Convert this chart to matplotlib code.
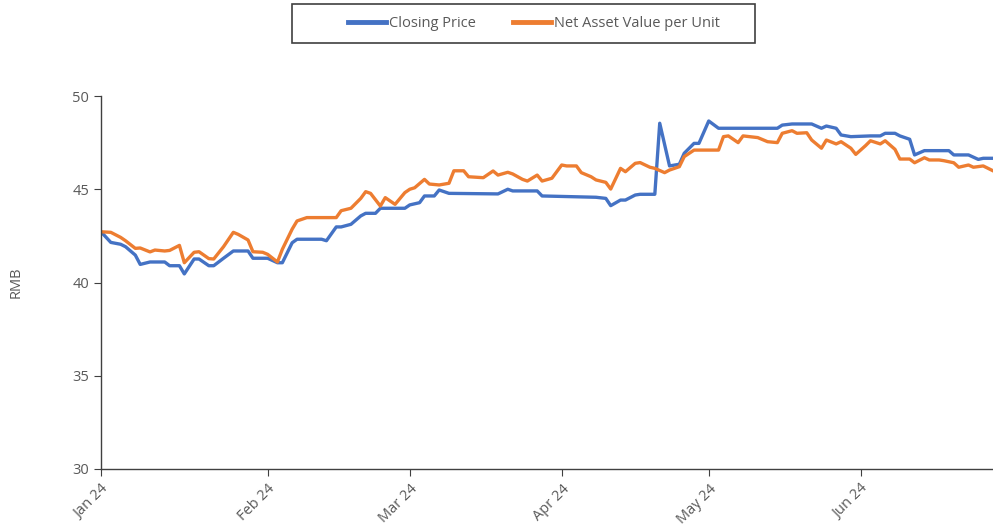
import matplotlib
matplotlib.use("Agg")
import matplotlib.pyplot as plt
import matplotlib.dates as mdates
from matplotlib.patches import Rectangle
import pandas as pd

plt.rcParams['font.family'] = ['Open Sans', 'DejaVu Sans']

close_dates = ["2023-12-29", "2023-12-31", "2024-01-02", "2024-01-03", "2024-01-05", "2024-01-06",
               "2024-01-08", "2024-01-11", "2024-01-12", "2024-01-14", "2024-01-15", "2024-01-17",
               "2024-01-18", "2024-01-20", "2024-01-21", "2024-01-23", "2024-01-25", "2024-01-28",
               "2024-01-29", "2024-02-01", "2024-02-03", "2024-02-04", "2024-02-06", "2024-02-07",
               "2024-02-12", "2024-02-13", "2024-02-15", "2024-02-16", "2024-02-18", "2024-02-20",
               "2024-02-21", "2024-02-23", "2024-02-24", "2024-02-29", "2024-03-01", "2024-03-03",
               "2024-03-04", "2024-03-06", "2024-03-07", "2024-03-09", "2024-03-19", "2024-03-21",
               "2024-03-22", "2024-03-27", "2024-03-28", "2024-04-08", "2024-04-10", "2024-04-11",
               "2024-04-13", "2024-04-14", "2024-04-16", "2024-04-17", "2024-04-20", "2024-04-21",
               "2024-04-23", "2024-04-25", "2024-04-26", "2024-04-28", "2024-04-29", "2024-05-01",
               "2024-05-03", "2024-05-15", "2024-05-16", "2024-05-18", "2024-05-22", "2024-05-24",
               "2024-05-25", "2024-05-27", "2024-05-28", "2024-05-30", "2024-06-03", "2024-06-05",
               "2024-06-06", "2024-06-08", "2024-06-09", "2024-06-11", "2024-06-12", "2024-06-14",
               "2024-06-19", "2024-06-20", "2024-06-23", "2024-06-25", "2024-06-26", "2024-06-28"]
close_values = [42.72, 42.15, 42.05, 41.92, 41.47, 40.97,
                41.10, 41.10, 40.90, 40.90, 40.46, 41.26,
                41.26, 40.90, 40.90, 41.30, 41.69, 41.69,
                41.30, 41.30, 41.06, 41.06, 42.13, 42.32,
                42.32, 42.24, 42.98, 42.98, 43.12, 43.57,
                43.71, 43.71, 43.98, 43.98, 44.16, 44.28,
                44.64, 44.64, 44.96, 44.78, 44.75, 45.00,
                44.91, 44.91, 44.64, 44.57, 44.51, 44.12,
                44.42, 44.42, 44.69, 44.73, 44.73, 48.54,
                46.25, 46.34, 46.93, 47.46, 47.46, 48.66,
                48.27, 48.27, 48.44, 48.50, 48.50, 48.27,
                48.39, 48.27, 47.91, 47.82, 47.86, 47.86,
                48.00, 48.00, 47.86, 47.68, 46.84, 47.07,
                47.07, 46.84, 46.84, 46.60, 46.66, 46.66]

nav_dates = ["2023-12-29", "2023-12-31", "2024-01-02", "2024-01-03", "2024-01-05", "2024-01-06",
             "2024-01-08", "2024-01-09", "2024-01-11", "2024-01-12", "2024-01-14", "2024-01-15",
             "2024-01-17", "2024-01-18", "2024-01-20", "2024-01-21", "2024-01-23", "2024-01-25",
             "2024-01-26", "2024-01-28", "2024-01-29", "2024-01-31", "2024-02-01", "2024-02-03",
             "2024-02-04", "2024-02-06", "2024-02-07", "2024-02-09", "2024-02-15", "2024-02-16",
             "2024-02-18", "2024-02-20", "2024-02-21", "2024-02-22", "2024-02-24", "2024-02-25",
             "2024-02-27", "2024-02-29", "2024-03-01", "2024-03-02", "2024-03-04", "2024-03-05",
             "2024-03-07", "2024-03-09", "2024-03-10", "2024-03-12", "2024-03-13", "2024-03-16",
             "2024-03-18", "2024-03-19", "2024-03-21", "2024-03-22", "2024-03-24", "2024-03-25",
             "2024-03-27", "2024-03-28", "2024-03-30", "2024-04-01", "2024-04-02", "2024-04-04",
             "2024-04-05", "2024-04-07", "2024-04-08", "2024-04-10", "2024-04-11", "2024-04-13",
             "2024-04-14", "2024-04-16", "2024-04-17", "2024-04-19", "2024-04-20", "2024-04-22",
             "2024-04-23", "2024-04-25", "2024-04-26", "2024-04-28", "2024-05-03", "2024-05-04",
             "2024-05-05", "2024-05-07", "2024-05-08", "2024-05-11", "2024-05-13", "2024-05-15",
             "2024-05-16", "2024-05-18", "2024-05-19", "2024-05-21", "2024-05-22", "2024-05-24",
             "2024-05-25", "2024-05-27", "2024-05-28", "2024-05-30", "2024-05-31", "2024-06-02",
             "2024-06-03", "2024-06-05", "2024-06-06", "2024-06-08", "2024-06-09", "2024-06-11",
             "2024-06-12", "2024-06-14", "2024-06-15", "2024-06-17", "2024-06-18", "2024-06-20",
             "2024-06-21", "2024-06-23", "2024-06-24", "2024-06-26", "2024-06-28"]
nav_values = [42.72, 42.69, 42.42, 42.24, 41.83, 41.85,
              41.64, 41.74, 41.69, 41.72, 41.99, 41.06,
              41.62, 41.65, 41.28, 41.26, 41.92, 42.69,
              42.58, 42.28, 41.65, 41.62, 41.51, 41.10,
              41.78, 42.86, 43.30, 43.48, 43.48, 43.85,
              43.98, 44.51, 44.87, 44.78, 44.10, 44.55,
              44.19, 44.82, 45.00, 45.08, 45.53, 45.28,
              45.23, 45.32, 45.99, 45.99, 45.67, 45.62,
              45.98, 45.76, 45.91, 45.82, 45.53, 45.44,
              45.76, 45.44, 45.59, 46.30, 46.25, 46.25,
              45.89, 45.67, 45.50, 45.37, 45.01, 46.12,
              45.94, 46.39, 46.43, 46.18, 46.12, 45.89,
              46.03, 46.21, 46.75, 47.10, 47.10, 47.82,
              47.86, 47.50, 47.86, 47.77, 47.55, 47.50,
              48.00, 48.14, 48.00, 48.03, 47.64, 47.20,
              47.64, 47.43, 47.55, 47.20, 46.87, 47.34,
              47.60, 47.43, 47.60, 47.14, 46.62, 46.62,
              46.42, 46.69, 46.57, 46.57, 46.53, 46.42,
              46.18, 46.30, 46.18, 46.25, 45.99]

series_names = ["Closing Price", "Net Asset Value per Unit"]
tick_dates = ["2023-12-29", "2024-02-01", "2024-03-01", "2024-04-01", "2024-05-01", "2024-06-01"]
tick_labels = ["Jan 24", "Feb 24", "Mar 24", "Apr 24", "May 24", "Jun 24"]
y_ticks = [30, 35, 40, 45, 50]

fig = plt.figure(figsize=(9.93, 5.29), dpi=100)
ax = fig.add_axes([101 / 993, 1 - 469 / 529, 1 - 101 / 993, (469 - 96) / 529])

blue = "#4472C4"
orange = "#ED7D31"
l1, = ax.plot(pd.to_datetime(close_dates), close_values, color=blue, lw=2.4,
              solid_joinstyle="round", label=series_names[0])
l2, = ax.plot(pd.to_datetime(nav_dates), nav_values, color=orange, lw=2.4,
              solid_joinstyle="round", label=series_names[1])

ax.set_xlim(pd.Timestamp("2023-12-29"), pd.Timestamp("2024-06-28"))
ax.set_ylim(30, 50)
ax.set_yticks(y_ticks)
ax.set_xticks(pd.to_datetime(tick_dates))
ax.set_xticklabels(tick_labels, rotation=45, ha="right", rotation_mode="anchor")

for s in ["top", "right"]:
    ax.spines[s].set_visible(False)
for s in ["left", "bottom"]:
    ax.spines[s].set_color("#404040")
    ax.spines[s].set_linewidth(1.0)
ax.tick_params(axis="both", colors="#404040", labelcolor="#595959", labelsize=10.5,
               length=5, width=0.8, direction="out")
ax.tick_params(axis="x", pad=4)
ax.set_ylabel("RMB", color="#595959", fontsize=10.5)
ax.yaxis.set_label_coords(-0.087, 0.5)

fig.patches.append(Rectangle((292 / 993, 1 - 43 / 529), (755 - 292) / 993, 39 / 529,
                             transform=fig.transFigure, fill=False, edgecolor="#404040",
                             linewidth=1.2))
leg = fig.legend(handles=[l1, l2], loc="center", bbox_to_anchor=(534 / 993, 1 - 23.5 / 529),
                 ncol=2, frameon=False, fontsize=10.5, handlelength=2.6, handletextpad=0.2,
                 columnspacing=2.6)
for t in leg.get_texts():
    t.set_color("#595959")
for h in leg.legend_handles:
    h.set_linewidth(3.5)

fig.savefig("out.png", dpi=100)
